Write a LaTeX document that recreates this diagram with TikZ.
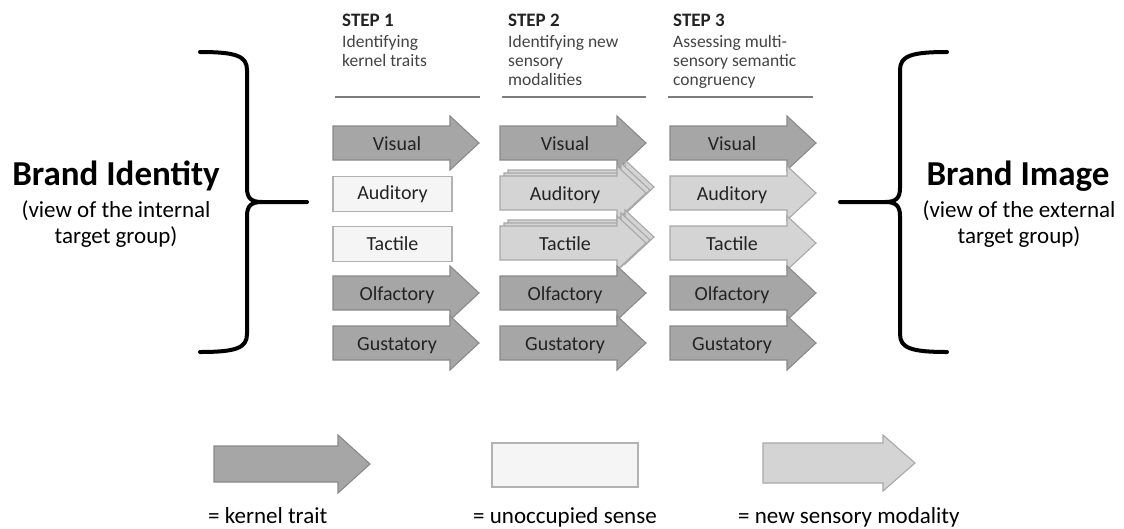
\documentclass[tikz,border=0pt]{standalone}
\usepackage{fontspec}
\setmainfont{Carlito}

\definecolor{kernfill}{RGB}{166,166,166}
\definecolor{kernedge}{RGB}{138,138,138}
\definecolor{newfill}{RGB}{212,212,212}
\definecolor{newedge}{RGB}{168,168,168}
\definecolor{emptyfill}{RGB}{245,245,245}
\definecolor{emptyedge}{RGB}{178,178,178}
\definecolor{rulegray}{RGB}{125,125,125}
\definecolor{darktext}{RGB}{35,35,35}

% block arrow: style, left x, centre y, shaft length, head length, shaft half-height, head half-height
\newcommand{\blockarrow}[7]{%
  \filldraw[#1] (#2,#3) ++(0,-#6) -- ++(#4,0) -- ++(0,#6-#7) -- ++(#5,#7)
    -- ++(-#5,#7) -- ++(0,#6-#7) -- ++(-#4,0) -- cycle;}
% arrow used in the three step columns
\newcommand{\sensearrow}[3]{\blockarrow{#1}{#2}{#3}{117}{29}{17}{27}}

\begin{document}
\begin{tikzpicture}[x=1pt,y=-1pt,
  kernel/.style={fill=kernfill,draw=kernedge,line width=1.1pt,line join=miter},
  newmod/.style={fill=newfill,draw=newedge,line width=1.1pt,line join=miter},
  emptybox/.style={rectangle,fill=emptyfill,draw=emptyedge,line width=1.4pt,
    inner sep=0pt,font=\fontsize{20}{24}\selectfont,text=darktext},
  senselabel/.style={anchor=base,inner sep=0pt,font=\fontsize{20}{24}\selectfont,text=darktext},
  steptitle/.style={anchor=base west,inner sep=0pt,font=\bfseries\fontsize{19}{22}\selectfont,text=darktext},
  stepdesc/.style={anchor=base west,inner sep=0pt,
    font=\fontsize{17.5}{19}\selectfont,text=darktext!85},
  steprule/.style={draw=rulegray,line width=2pt},
  brace/.style={line width=4pt,line cap=round,line join=round},
  brandtitle/.style={anchor=base,inner sep=0pt,font=\bfseries\fontsize{35}{42}\selectfont},
  brandsub/.style={anchor=base,inner sep=0pt,font=\fontsize{23}{26}\selectfont},
  legendtext/.style={inner sep=0pt,font=\fontsize{23}{27}\selectfont}]

\fill[white] (0,0) rectangle (1124,528);
\useasboundingbox (0,0) rectangle (1124,528);

% ---- step headers ----
\node[steptitle] (t1)  at (342,26) {STEP 1};
\node[stepdesc]  (d1a) at (342,47) {Identifying};
\node[stepdesc]  (d1b) at (342,66) {kernel traits};
\node[steptitle] (t2)  at (508,26) {STEP 2};
\node[stepdesc]  (d2a) at (508,47) {Identifying new};
\node[stepdesc]  (d2b) at (508,66) {sensory};
\node[stepdesc]  (d2c) at (508,85) {modalities};
\node[steptitle] (t3)  at (673,26) {STEP 3};
\node[stepdesc]  (d3a) at (673,47) {Assessing multi-};
\node[stepdesc]  (d3b) at (673,66) {sensory semantic};
\node[stepdesc]  (d3c) at (673,85) {congruency};
\draw[steprule] (335,97) -- (480,97);
\draw[steprule] (502,97) -- (646,97);
\draw[steprule] (668,97) -- (813,97);

% ---- column 1: kernel traits ----
\sensearrow{kernel}{333}{143}
\node[senselabel] (c1vis) at (397,150) {Visual};
\node[emptybox,minimum width=119pt,minimum height=35pt] (c1aud) at (392.5,194) {Auditory};
\node[emptybox,minimum width=119pt,minimum height=35pt] (c1tac) at (392.5,244) {Tactile};
\sensearrow{kernel}{333}{293}
\node[senselabel] (c1olf) at (397,300) {Olfactory};
\sensearrow{kernel}{333}{343}
\node[senselabel] (c1gus) at (397,350) {Gustatory};

% ---- column 2: new sensory modalities ----
\sensearrow{kernel}{500}{143}
\node[senselabel] (c2vis) at (565,150) {Visual};
\sensearrow{newmod}{508}{187}
\sensearrow{newmod}{504}{190}
\sensearrow{newmod}{500}{193}
\node[senselabel] (c2aud) at (565,200) {Auditory};
\sensearrow{newmod}{508}{237}
\sensearrow{newmod}{504}{240}
\sensearrow{newmod}{500}{243}
\node[senselabel] (c2tac) at (565,250) {Tactile};
\sensearrow{kernel}{500}{293}
\node[senselabel] (c2olf) at (565,300) {Olfactory};
\sensearrow{kernel}{500}{343}
\node[senselabel] (c2gus) at (565,350) {Gustatory};

% ---- column 3: semantic congruency ----
\sensearrow{kernel}{670}{143}
\node[senselabel] (c3vis) at (732,150) {Visual};
\sensearrow{newmod}{670}{193}
\node[senselabel] (c3aud) at (732,200) {Auditory};
\sensearrow{newmod}{670}{243}
\node[senselabel] (c3tac) at (732,250) {Tactile};
\sensearrow{kernel}{670}{293}
\node[senselabel] (c3olf) at (732,300) {Olfactory};
\sensearrow{kernel}{670}{343}
\node[senselabel] (c3gus) at (732,350) {Gustatory};

% ---- brand identity (left) ----
\node[brandtitle] (bid)  at (116,185) {Brand Identity};
\node[brandsub]   (bida) at (116,217) {(view of the internal};
\node[brandsub]   (bidb) at (116,243) {target group)};
\draw[brace] (200,52) .. controls (236,52) and (247,56) .. (247,70) -- (247,188)
  .. controls (247,198) and (251,202) .. (262,202) -- (307,202);
\draw[brace] (262,202) .. controls (251,202) and (247,206) .. (247,216) -- (247,334)
  .. controls (247,348) and (236,352) .. (200,352);

% ---- brand image (right) ----
\node[brandtitle] (bim)  at (1018,185) {Brand Image};
\node[brandsub]   (bima) at (1019,217) {(view of the external};
\node[brandsub]   (bimb) at (1019,243) {target group)};
\draw[brace] (947,52) .. controls (911,52) and (900,56) .. (900,70) -- (900,188)
  .. controls (900,198) and (896,202) .. (885,202) -- (840,202);
\draw[brace] (885,202) .. controls (896,202) and (900,206) .. (900,216) -- (900,334)
  .. controls (900,348) and (911,352) .. (947,352);

% ---- legend ----
\blockarrow{kernel}{214}{464}{124}{32}{18}{29}
\node[legendtext,anchor=base west] (lk) at (208,523) {= kernel trait};
\node[emptybox,minimum width=146pt,minimum height=44pt] (lbox) at (565,465) {};
\node[legendtext,anchor=base] (lu) at (565,523) {= unoccupied sense};
\blockarrow{newmod}{763}{463}{120}{32}{20}{28}
\node[legendtext,anchor=base west] (ln) at (738,523) {= new sensory modality};

\end{tikzpicture}
\end{document}
